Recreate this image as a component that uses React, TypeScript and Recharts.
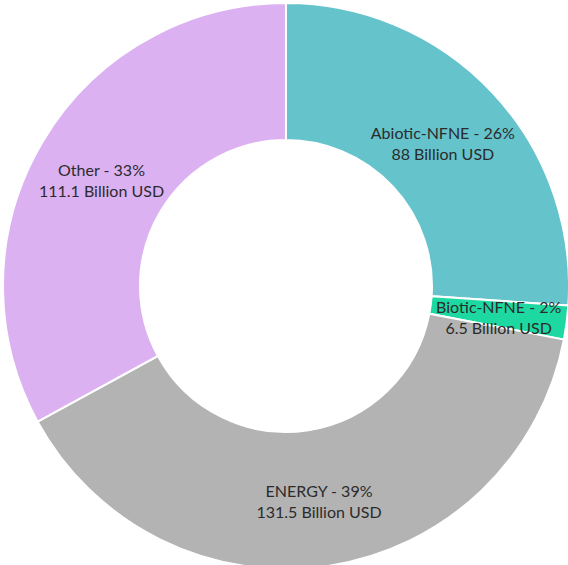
import { PieChart, Pie, Cell } from 'recharts'

const categories = ['Abiotic-NFNE', 'Biotic-NFNE', 'ENERGY', 'Other']
const values = [88, 6.5, 131.5, 111.1]
const colors = ['#65C3CC', '#1DD9A1', '#B3B3B3', '#DCB1F2']

const data = categories.map((name, i) => ({ name, value: values[i] }))

const RADIAN = Math.PI / 180

const renderLabel = (props: any) => {
  const { cx, cy, midAngle, innerRadius, outerRadius, percent, name, value } = props
  const r = (innerRadius + outerRadius) / 2
  const x = cx + r * Math.cos(-midAngle * RADIAN)
  const y = cy + r * Math.sin(-midAngle * RADIAN)
  return (
    <text x={x} y={y} textAnchor="middle" fill="#2b2b2b" fontSize={16} fontFamily="Lato, 'Noto Sans', sans-serif">
      <tspan x={x} dy={-1}>{`${name} - ${Math.round(percent * 100)}%`}</tspan>
      <tspan x={x} dy={21}>{`${value} Billion USD`}</tspan>
    </text>
  )
}

export default function App() {
  return (
    <div style={{ position: 'absolute', left: 0, top: 0 }}>
      <PieChart width={568} height={565} margin={{ top: 0, right: 0, bottom: 0, left: 0 }}>
        <Pie
          data={data}
          dataKey="value"
          nameKey="name"
          cx={286}
          cy={286}
          innerRadius={146}
          outerRadius={283}
          startAngle={90}
          endAngle={-270}
          stroke="#ffffff"
          strokeWidth={2}
          label={renderLabel}
          labelLine={false}
          isAnimationActive={false}
        >
          {data.map((d, i) => (
            <Cell key={d.name} fill={colors[i]} />
          ))}
        </Pie>
      </PieChart>
    </div>
  )
}
